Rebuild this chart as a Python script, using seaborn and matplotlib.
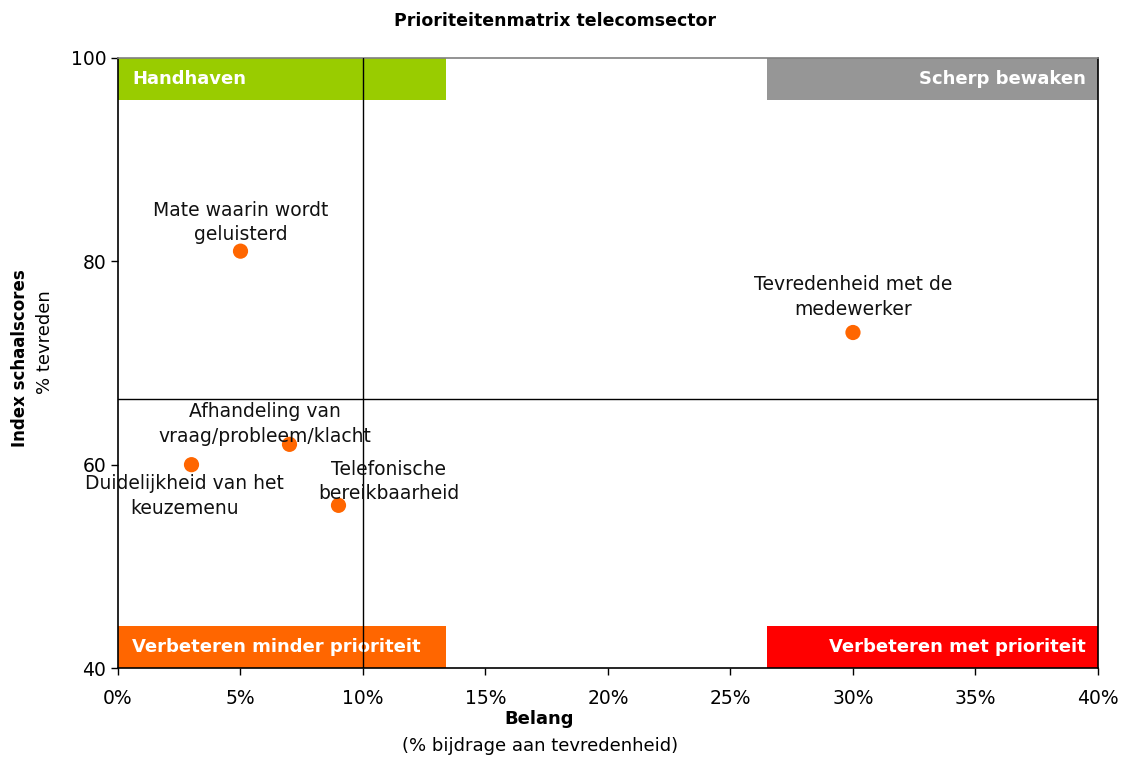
import matplotlib
matplotlib.use("Agg")
import matplotlib.pyplot as plt
import matplotlib.ticker as mticker
from matplotlib.patches import Rectangle
import seaborn as sns
import pandas as pd

# data
items = [
    "Mate waarin wordt\ngeluisterd",
    "Tevredenheid met de\nmedewerker",
    "Afhandeling van\nvraag/probleem/klacht",
    "Duidelijkheid van het\nkeuzemenu",
    "Telefonische\nbereikbaarheid",
]
belang = [0.05, 0.30, 0.07, 0.03, 0.09]
tevreden = [81, 73, 62, 60, 56]

x_split = 0.10
y_split = 66.5

quadrants = ["Handhaven", "Scherp bewaken", "Verbeteren minder prioriteit", "Verbeteren met prioriteit"]
quadrant_colors = ["#99CC00", "#969696", "#FF6600", "#FF0000"]

# label offsets in points (dx, dy, va)
label_offsets = [(0, 5, "bottom"), (0, 10, "bottom"), (-18, -1, "bottom"), (-5, -7, "top"), (36, 17, "center")]

df = pd.DataFrame({"item": items, "belang": belang, "tevreden": tevreden})

sns.set_theme(style="white")
plt.rcParams["font.family"] = ["DejaVu Sans"]
plt.rcParams["text.color"] = "black"

fig = plt.figure(figsize=(11.26, 7.58), dpi=100)
ax = fig.add_axes([0.1048, 0.1187, 0.8703, 0.8048])

ax.set_xlim(0, 0.40)
ax.set_ylim(40, 100)

# quadrant banners
box_h = 4.1
boxes = [
    (0, 0.134, 100 - box_h, "left"),
    (0.265, 0.135, 100 - box_h, "right"),
    (0, 0.134, 40, "left"),
    (0.265, 0.135, 40, "right"),
]
for (bx, bw, by, ha), name, col in zip(boxes, quadrants, quadrant_colors):
    ax.add_patch(Rectangle((bx, by), bw, box_h, facecolor=col, edgecolor="none", zorder=1))
    tx = bx + 0.0057 if ha == "left" else bx + bw - 0.005
    ax.text(tx, by + box_h / 2, name, ha=ha, va="center", color="white",
            fontsize=13, fontweight="bold", zorder=2)

ax.axvline(x_split, color="black", lw=1, zorder=3)
ax.axhline(y_split, color="black", lw=1, zorder=3)

sns.scatterplot(data=df, x="belang", y="tevreden", color="#FF6600", s=120,
                edgecolor="none", ax=ax, zorder=5)

for name, bx, ty, (dx, dy, va) in zip(items, belang, tevreden, label_offsets):
    ax.annotate(name, (bx, ty), xytext=(dx, dy), textcoords="offset points",
                ha="center", va=va, fontsize=13.5, color="#111111",
                linespacing=1.35, zorder=6)

ax.set_xticks([i * 0.05 for i in range(9)])
ax.set_yticks([40, 60, 80, 100])
ax.xaxis.set_major_formatter(mticker.PercentFormatter(1.0, decimals=0))
ax.tick_params(axis="both", direction="out", length=5, width=1, labelsize=13.5,
               color="black", labelcolor="black", bottom=True, left=True)
ax.tick_params(axis="x", pad=10)

for side in ["left", "bottom", "right"]:
    ax.spines[side].set_color("black")
    ax.spines[side].set_linewidth(1.2)
ax.spines["top"].set_color("#808080")
ax.spines["top"].set_linewidth(1.2)

ax.set_xlabel("")
ax.set_ylabel("")

fig.text(0.493, 0.972, "Prioriteitenmatrix telecomsector", ha="center", va="center",
         fontsize=12.5, fontweight="bold")
fig.text(0.479, 0.051, "Belang", ha="center", va="center", fontsize=13, fontweight="bold")
fig.text(0.480, 0.016, "(% bijdrage aan tevredenheid)", ha="center", va="center", fontsize=13)
fig.text(0.018, 0.527, "Index schaalscores", ha="center", va="center", rotation=90,
         fontsize=12, fontweight="bold")
fig.text(0.040, 0.548, "% tevreden", ha="center", va="center", rotation=90, fontsize=13)

fig.savefig("out.png", dpi=100, facecolor="white")
